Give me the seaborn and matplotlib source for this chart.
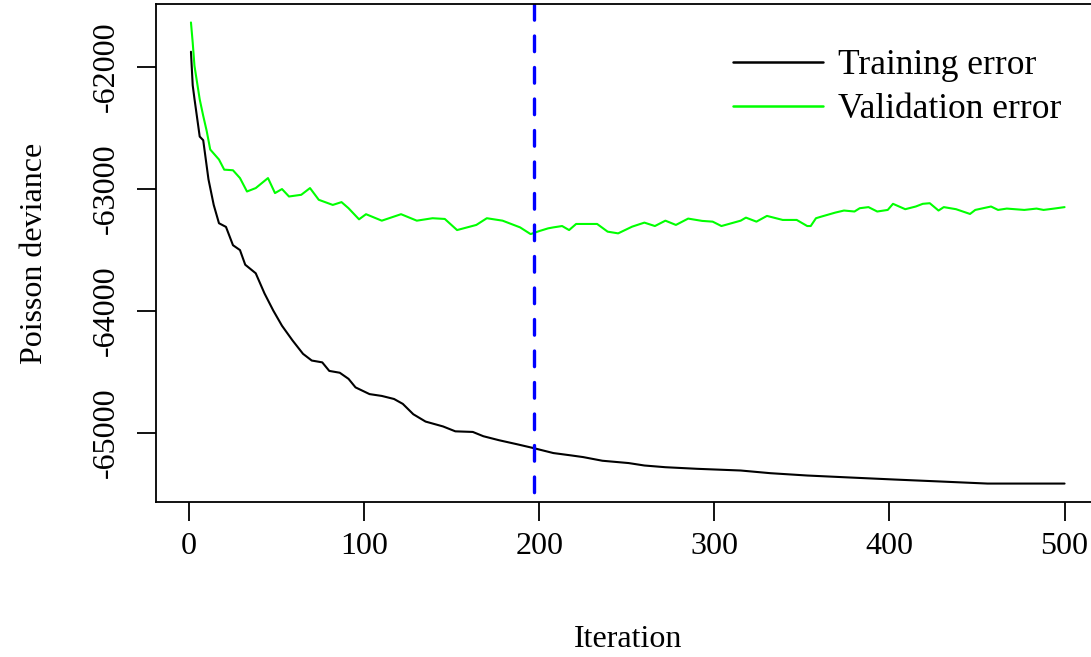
import numpy as np
import matplotlib
matplotlib.use("Agg")
import matplotlib.pyplot as plt
import seaborn as sns

# gbm-style deviance curves

train_iter = [1, 2, 3, 6, 8, 11, 14, 17, 21, 25, 29, 32, 38, 43, 48, 53, 59, 65,
              70, 76, 80, 86, 91, 95, 103, 110, 117, 122, 128, 135, 145, 152,
              162, 168, 177, 187, 196, 208, 218, 225, 236, 251, 260, 272, 290,
              315, 332, 353, 377, 403, 429, 456, 500]
train_dev = [-61875, -62150, -62260, -62570, -62600, -62920, -63130, -63280,
             -63310, -63460, -63500, -63620, -63690, -63855, -63995, -64120,
             -64240, -64350, -64405, -64420, -64490, -64505, -64555, -64625,
             -64680, -64695, -64720, -64760, -64845, -64905, -64945, -64985,
             -64990, -65025, -65058, -65090, -65120, -65163, -65182, -65196,
             -65226, -65245, -65265, -65279, -65292, -65306, -65328, -65347,
             -65363, -65380, -65396, -65413, -65413]

valid_iter = [1, 2, 3, 6, 8, 10, 12, 17, 20, 25, 29, 33, 38, 45, 49, 53, 57, 64,
              69, 74, 82, 87, 91, 97, 101, 110, 121, 130, 139, 146, 153, 164,
              170, 179, 189, 195, 200, 205, 208, 213, 217, 221, 228, 233, 239,
              245, 253, 260, 266, 272, 278, 285, 293, 299, 304, 315, 318, 324,
              330, 339, 347, 353, 355, 358, 361, 369, 374, 380, 383, 388, 393,
              399, 402, 409, 415, 419, 423, 428, 431, 438, 446, 449, 458, 462,
              467, 477, 484, 488, 494, 500]
valid_dev = [-61635, -61800, -61990, -62265, -62400, -62525, -62676, -62758,
             -62841, -62846, -62910, -63020, -62992, -62910, -63033, -63000,
             -63061, -63047, -62992, -63088, -63130, -63107, -63157, -63248,
             -63206, -63259, -63206, -63259, -63239, -63245, -63336, -63294,
             -63239, -63259, -63314, -63369, -63344, -63322, -63314, -63303,
             -63336, -63286, -63286, -63286, -63349, -63363, -63308, -63275,
             -63303, -63259, -63294, -63242, -63261, -63267, -63303, -63259,
             -63234, -63267, -63220, -63253, -63253, -63303, -63303, -63239,
             -63226, -63193, -63176, -63184, -63157, -63148, -63184, -63171,
             -63121, -63165, -63143, -63121, -63116, -63176, -63148, -63165,
             -63204, -63171, -63143, -63171, -63160, -63171, -63160, -63171,
             -63160, -63148]

best_iter = 197
xticks = [0, 100, 200, 300, 400, 500]
yticks = [-65000, -64000, -63000, -62000]
labels = ["Training error", "Validation error"]

sns.set_theme(style="ticks")
plt.rcParams["font.family"] = ["Liberation Serif", "DejaVu Serif"]
plt.rcParams["text.color"] = "black"
plt.rcParams["axes.labelcolor"] = "black"

fig = plt.figure(figsize=(10.91, 6.57), dpi=100)
ax = fig.add_axes([0.1430, 0.2359, 0.8648, 0.7580])

sns.lineplot(x=train_iter, y=train_dev, color="black", linewidth=1.5,
             label=labels[0], ax=ax)
sns.lineplot(x=valid_iter, y=valid_dev, color="#00ff00", linewidth=1.5,
             label=labels[1], ax=ax)
# drawn top -> bottom so the dash pattern starts at the upper frame
ax.axvline(best_iter, ymin=1, ymax=0, color="blue", linewidth=2.4,
           linestyle=(0, (4.7, 4.75)), dash_capstyle="round")

ax.margins(x=0.04, y=0.04)
ax.set_xticks(xticks)
ax.set_yticks(yticks)
ax.set_yticklabels([str(v) for v in yticks])

for sp in ax.spines.values():
    sp.set_color("black")
    sp.set_linewidth(1.3)

ax.tick_params(axis="both", direction="out", length=13.5, width=1.3,
               color="black", labelsize=23, labelcolor="black")
ax.tick_params(axis="x", pad=8)
ax.tick_params(axis="y", pad=12)
for lbl in ax.get_yticklabels():
    lbl.set_rotation(90)
    lbl.set_va("center")

ax.set_xlabel("Iteration", fontsize=23, labelpad=46, color="black")
ax.set_ylabel("Poisson deviance", fontsize=23, labelpad=31, color="black")

leg = ax.legend(loc="upper left", bbox_to_anchor=(733 / 1091, 1 - 49 / 657),
                bbox_transform=fig.transFigure, frameon=False, fontsize=25.5,
                handlelength=2.55, handletextpad=0.42, labelspacing=0.32,
                borderpad=0, borderaxespad=0)
for t in leg.get_texts():
    t.set_color("black")
for h in leg.get_lines():
    h.set_linewidth(1.8)

fig.savefig("out.png", dpi=100)
